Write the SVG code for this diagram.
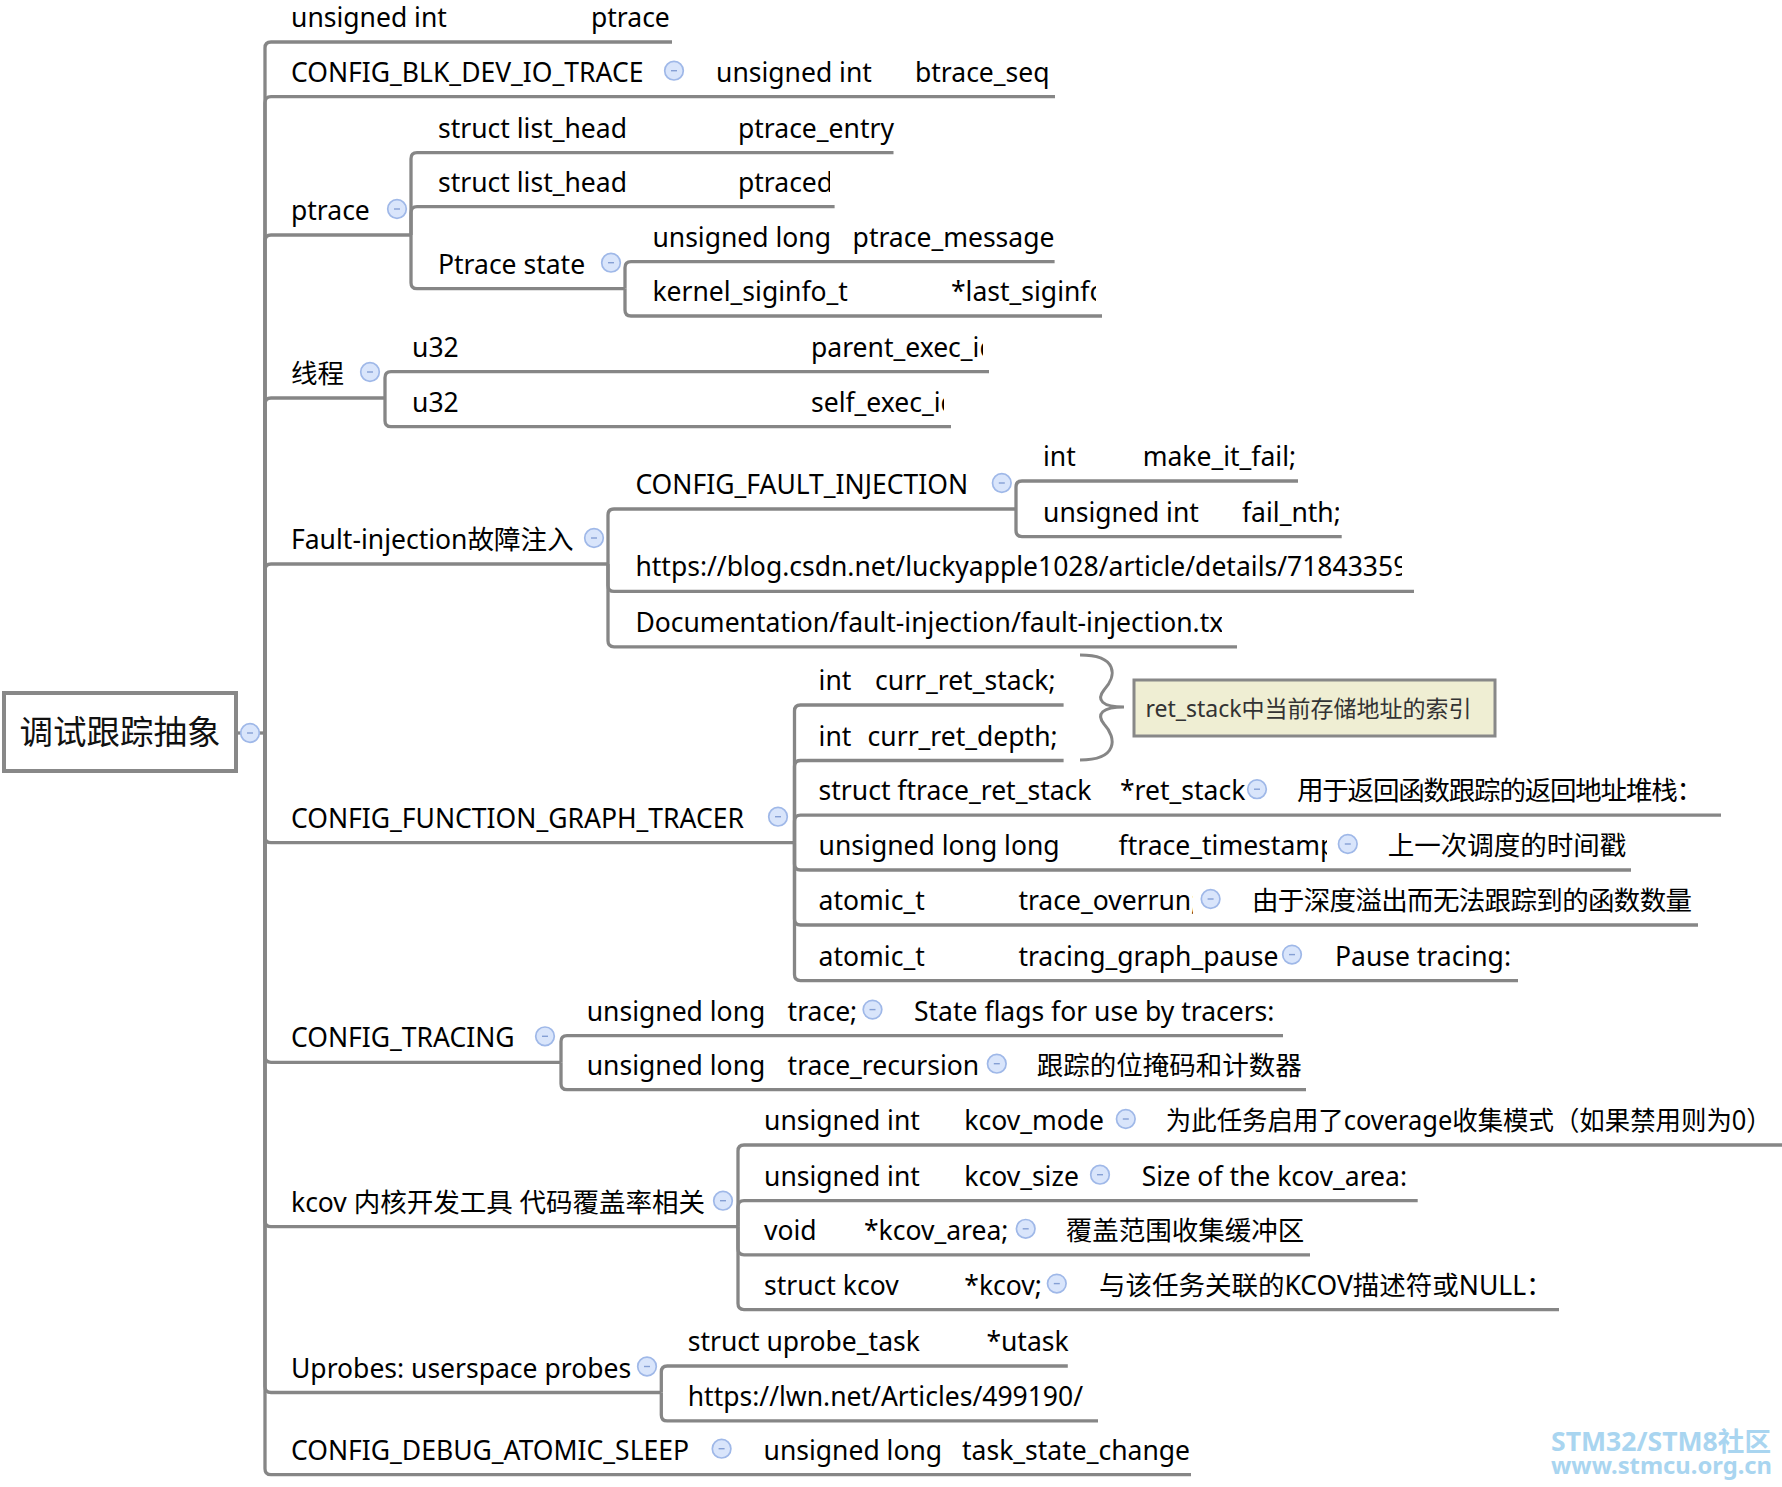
<svg xmlns="http://www.w3.org/2000/svg" width="1782" height="1487" viewBox="0 0 1782 1487">
<style>
.t{font-family:"Noto Sans","Noto Sans CJK SC",sans-serif;font-size:26.5px;fill:#000}
.root{font-family:"Noto Sans CJK SC","Noto Sans",sans-serif;font-size:33.5px;fill:#111}
.note{font-family:"Noto Sans","Noto Sans CJK SC",sans-serif;font-size:23px;fill:#333}
.wm{font-family:"Noto Sans","Noto Sans CJK SC",sans-serif;font-weight:bold;fill:#a9d5f0}
.ln{fill:none;stroke:#868686;stroke-width:3.3;stroke-linecap:butt}
.br{fill:none;stroke:#868686;stroke-width:3}
</style>
<defs>
<g id="col"><circle r="9.3" fill="#d9e5fb" stroke="#9fb8e8" stroke-width="1.7"/><line x1="-3" y1="0" x2="3" y2="0" stroke="#859fd4" stroke-width="1.4"/></g>
<clipPath id="c1" clipPathUnits="userSpaceOnUse"><rect x="0" y="0" width="830" height="1487"/></clipPath>
<clipPath id="c2" clipPathUnits="userSpaceOnUse"><rect x="0" y="0" width="1096" height="1487"/></clipPath>
<clipPath id="c3" clipPathUnits="userSpaceOnUse"><rect x="0" y="0" width="983" height="1487"/></clipPath>
<clipPath id="c4" clipPathUnits="userSpaceOnUse"><rect x="0" y="0" width="944" height="1487"/></clipPath>
<clipPath id="c5" clipPathUnits="userSpaceOnUse"><rect x="0" y="0" width="1339" height="1487"/></clipPath>
<clipPath id="c6" clipPathUnits="userSpaceOnUse"><rect x="0" y="0" width="1402" height="1487"/></clipPath>
<clipPath id="c7" clipPathUnits="userSpaceOnUse"><rect x="0" y="0" width="1222" height="1487"/></clipPath>
<clipPath id="c8" clipPathUnits="userSpaceOnUse"><rect x="0" y="0" width="1327" height="1487"/></clipPath>
<clipPath id="c9" clipPathUnits="userSpaceOnUse"><rect x="0" y="0" width="1193" height="1487"/></clipPath>
</defs>
<rect width="1782" height="1487" fill="#fff"/>

<g id="connectors">
<path class="ln" d="M237,733 H265"/>
<path class="ln" d="M265,733 V48 Q265,42 271,42 H672"/>
<path class="ln" d="M265,733 V102.7 Q265,96.7 271,96.7 H1055"/>
<path class="ln" d="M265,733 V241 Q265,235 271,235 H411"/>
<path class="ln" d="M265,733 V404 Q265,398 271,398 H385"/>
<path class="ln" d="M265,733 V570 Q265,564 271,564 H608"/>
<path class="ln" d="M265,733 V836.7 Q265,842.7 271,842.7 H794.5"/>
<path class="ln" d="M265,733 V1056.3 Q265,1062.3 271,1062.3 H561"/>
<path class="ln" d="M265,733 V1220.7 Q265,1226.7 271,1226.7 H738"/>
<path class="ln" d="M265,733 V1386.5 Q265,1392.5 271,1392.5 H661.3"/>
<path class="ln" d="M265,733 V1468.7 Q265,1474.7 271,1474.7 H1191"/>

<path class="ln" d="M411,235 V158.7 Q411,152.7 417,152.7 H893.5"/>
<path class="ln" d="M411,235 V212.7 Q411,206.7 417,206.7 H834.6"/>
<path class="ln" d="M411,235 V282.7 Q411,288.7 417,288.7 H625"/>
<path class="ln" d="M625,288.7 V267.7 Q625,261.7 631,261.7 H1054.6"/>
<path class="ln" d="M625,288.7 V310 Q625,316 631,316 H1102"/>

<path class="ln" d="M385,398 V377.7 Q385,371.7 391,371.7 H989"/>
<path class="ln" d="M385,398 V420.7 Q385,426.7 391,426.7 H951"/>

<path class="ln" d="M608,564 V515 Q608,509 614,509 H1016"/>
<path class="ln" d="M608,564 V585.4 Q608,591.4 614,591.4 H1414"/>
<path class="ln" d="M608,564 V640.8 Q608,646.8 614,646.8 H1237"/>
<path class="ln" d="M1016,509 V487 Q1016,481 1022,481 H1298"/>
<path class="ln" d="M1016,509 V530.6 Q1016,536.6 1022,536.6 H1341.7"/>

<path class="ln" d="M794.5,842.7 V711 Q794.5,705 800.5,705 H1063.6"/>
<path class="ln" d="M794.5,842.7 V766.5 Q794.5,760.5 800.5,760.5 H1063.6"/>
<path class="ln" d="M794.5,842.7 V821.2 Q794.5,815.2 800.5,815.2 H1721"/>
<path class="ln" d="M794.5,842.7 V864 Q794.5,870 800.5,870 H1631"/>
<path class="ln" d="M794.5,842.7 V919 Q794.5,925 800.5,925 H1698"/>
<path class="ln" d="M794.5,842.7 V974.6 Q794.5,980.6 800.5,980.6 H1518"/>

<path class="ln" d="M561,1062.3 V1041.6 Q561,1035.6 567,1035.6 H1283"/>
<path class="ln" d="M561,1062.3 V1083.7 Q561,1089.7 567,1089.7 H1306"/>

<path class="ln" d="M738,1226.7 V1151 Q738,1145 744,1145 H1782"/>
<path class="ln" d="M738,1226.7 V1206.7 Q738,1200.7 744,1200.7 H1417.7"/>
<path class="ln" d="M738,1226.7 V1248.8 Q738,1254.8 744,1254.8 H1310"/>
<path class="ln" d="M738,1226.7 V1303.6 Q738,1309.6 744,1309.6 H1559"/>

<path class="ln" d="M661.3,1392.5 V1372 Q661.3,1366 667.3,1366 H1067.8"/>
<path class="ln" d="M661.3,1392.5 V1414.9 Q661.3,1420.9 667.3,1420.9 H1098"/>

<path class="br" d="M1080,655 C1118,655 1117,676 1104,690 C1096,700 1102,707 1124,707 C1102,707 1096,714 1104,724 C1117,738 1118,760 1080,760"/>
</g>

<g id="n-root">
<rect x="4" y="693" width="232" height="78" fill="#fff" stroke="#888" stroke-width="4"/>
<text class="root" x="120" y="744" text-anchor="middle">调试跟踪抽象</text>
<use href="#col" x="250" y="733"/>
</g>

<g id="n-ptrace-field">
<text class="t" x="291" y="27">unsigned int</text>
<text class="t" x="591" y="27">ptrace</text>
</g>

<g id="n-blk">
<text class="t" x="291" y="81.7">CONFIG_BLK_DEV_IO_TRACE</text>
<use href="#col" x="674" y="70.7"/>
<text class="t" x="716" y="81.7">unsigned int</text>
<text class="t" x="915" y="81.7">btrace_seq</text>
</g>

<g id="n-ptrace">
<text class="t" x="291" y="220">ptrace</text>
<use href="#col" x="397" y="209"/>
</g>
<g id="n-ptrace-entry">
<text class="t" x="438" y="137.7">struct list_head</text>
<text class="t" x="738" y="137.7">ptrace_entry</text>
</g>
<g id="n-ptraced">
<text class="t" x="438" y="191.7">struct list_head</text>
<text class="t" x="738" y="191.7" clip-path="url(#c1)">ptraced</text>
</g>
<g id="n-ptrace-state">
<text class="t" x="438" y="273.7">Ptrace state</text>
<use href="#col" x="611" y="262.7"/>
</g>
<g id="n-ptrace-message">
<text class="t" x="652.4" y="246.7">unsigned long</text>
<text class="t" x="852.6" y="246.7">ptrace_message</text>
</g>
<g id="n-last-siginfo">
<text class="t" x="652.4" y="301">kernel_siginfo_t</text>
<text class="t" x="951" y="301" clip-path="url(#c2)">*last_siginfo</text>
</g>

<g id="n-thread">
<text class="t" x="291" y="383">线程</text>
<use href="#col" x="370" y="372"/>
</g>
<g id="n-parent-exec">
<text class="t" x="412" y="356.7">u32</text>
<text class="t" x="811" y="356.7" clip-path="url(#c3)">parent_exec_id</text>
</g>
<g id="n-self-exec">
<text class="t" x="412" y="411.7">u32</text>
<text class="t" x="811" y="411.7" clip-path="url(#c4)">self_exec_id</text>
</g>

<g id="n-fault">
<text class="t" x="291" y="549">Fault-injection故障注入</text>
<use href="#col" x="594" y="538"/>
</g>
<g id="n-fault-config">
<text class="t" x="635.4" y="494">CONFIG_FAULT_INJECTION</text>
<use href="#col" x="1001.8" y="483"/>
</g>
<g id="n-make-it-fail">
<text class="t" x="1043" y="466">int</text>
<text class="t" x="1142.7" y="466">make_it_fail;</text>
</g>
<g id="n-fail-nth">
<text class="t" x="1043" y="521.6">unsigned int</text>
<text class="t" x="1242" y="521.6" clip-path="url(#c5)">fail_nth;</text>
</g>
<g id="n-csdn">
<text class="t" x="635.4" y="576.4" clip-path="url(#c6)">https://blog.csdn.net/luckyapple1028/article/details/71843359</text>
</g>
<g id="n-doc">
<text class="t" x="635.4" y="631.8" clip-path="url(#c7)">Documentation/fault-injection/fault-injection.txt</text>
</g>

<g id="n-fgt">
<text class="t" x="291" y="827.7">CONFIG_FUNCTION_GRAPH_TRACER</text>
<use href="#col" x="778" y="816.7"/>
</g>
<g id="n-curr-ret-stack">
<text class="t" x="818.6" y="690">int</text>
<text class="t" x="875" y="690">curr_ret_stack;</text>
</g>
<g id="n-curr-ret-depth">
<text class="t" x="818.6" y="745.5">int</text>
<text class="t" x="867.6" y="745.5">curr_ret_depth;</text>
</g>
<g id="n-note">
<rect x="1134" y="680" width="361" height="56" fill="#efeed3" stroke="#888" stroke-width="3"/>
<text class="note" x="1145.5" y="716.5">ret_stack中当前存储地址的索引</text>
</g>
<g id="n-ret-stack">
<text class="t" x="818.6" y="800.2">struct ftrace_ret_stack</text>
<text class="t" x="1120" y="800.2">*ret_stack</text>
<use href="#col" x="1257" y="789.2"/>
<text class="t" x="1297" y="800.2" textLength="406" lengthAdjust="spacing">用于返回函数跟踪的返回地址堆栈：</text>
</g>
<g id="n-timestamp">
<text class="t" x="818.6" y="855">unsigned long long</text>
<text class="t" x="1118.6" y="855" clip-path="url(#c8)">ftrace_timestamp</text>
<use href="#col" x="1347.8" y="844"/>
<text class="t" x="1387.7" y="855">上一次调度的时间戳</text>
</g>
<g id="n-overrun">
<text class="t" x="818.6" y="910">atomic_t</text>
<text class="t" x="1018.4" y="910" clip-path="url(#c9)">trace_overrun;</text>
<use href="#col" x="1210.6" y="899"/>
<text class="t" x="1252" y="910" textLength="440" lengthAdjust="spacing">由于深度溢出而无法跟踪到的函数数量</text>
</g>
<g id="n-pause">
<text class="t" x="818.6" y="965.6">atomic_t</text>
<text class="t" x="1018.4" y="965.6">tracing_graph_pause</text>
<use href="#col" x="1292" y="954.6"/>
<text class="t" x="1335" y="965.6">Pause tracing:</text>
</g>

<g id="n-tracing">
<text class="t" x="291" y="1047.3">CONFIG_TRACING</text>
<use href="#col" x="545" y="1036.3"/>
</g>
<g id="n-trace">
<text class="t" x="586.7" y="1020.6">unsigned long</text>
<text class="t" x="787.6" y="1020.6">trace;</text>
<use href="#col" x="872.5" y="1009.6"/>
<text class="t" x="914" y="1020.6">State flags for use by tracers:</text>
</g>
<g id="n-trace-recursion">
<text class="t" x="586.7" y="1074.7">unsigned long</text>
<text class="t" x="787.6" y="1074.7">trace_recursion</text>
<use href="#col" x="996.8" y="1063.7"/>
<text class="t" x="1036.8" y="1074.7">跟踪的位掩码和计数器</text>
</g>

<g id="n-kcov">
<text class="t" x="291" y="1211.7">kcov 内核开发工具 代码覆盖率相关</text>
<use href="#col" x="723" y="1200.7"/>
</g>
<g id="n-kcov-mode">
<text class="t" x="764" y="1130">unsigned int</text>
<text class="t" x="964.3" y="1130">kcov_mode</text>
<use href="#col" x="1125.8" y="1119"/>
<text class="t" x="1165.8" y="1130" textLength="606" lengthAdjust="spacingAndGlyphs">为此任务启用了coverage收集模式（如果禁用则为0）</text>
</g>
<g id="n-kcov-size">
<text class="t" x="764" y="1185.7">unsigned int</text>
<text class="t" x="964.3" y="1185.7">kcov_size</text>
<use href="#col" x="1100" y="1174.7"/>
<text class="t" x="1141.7" y="1185.7">Size of the kcov_area:</text>
</g>
<g id="n-kcov-area">
<text class="t" x="764" y="1239.8">void</text>
<text class="t" x="864" y="1239.8">*kcov_area;</text>
<use href="#col" x="1025.7" y="1228.8"/>
<text class="t" x="1065.8" y="1239.8">覆盖范围收集缓冲区</text>
</g>
<g id="n-kcov-ptr">
<text class="t" x="764" y="1294.6">struct kcov</text>
<text class="t" x="964.3" y="1294.6">*kcov;</text>
<use href="#col" x="1056.8" y="1283.6"/>
<text class="t" x="1098.9" y="1294.6">与该任务关联的KCOV描述符或NULL：</text>
</g>

<g id="n-uprobes">
<text class="t" x="291" y="1377.5">Uprobes: userspace probes</text>
<use href="#col" x="647" y="1366.5"/>
</g>
<g id="n-utask">
<text class="t" x="687.7" y="1351">struct uprobe_task</text>
<text class="t" x="986.4" y="1351">*utask</text>
</g>
<g id="n-lwn">
<text class="t" x="687.7" y="1405.9">https://lwn.net/Articles/499190/</text>
</g>

<g id="n-atomic-sleep">
<text class="t" x="291" y="1459.7">CONFIG_DEBUG_ATOMIC_SLEEP</text>
<use href="#col" x="721.6" y="1448.7"/>
<text class="t" x="763.5" y="1459.7">unsigned long</text>
<text class="t" x="962" y="1459.7">task_state_change</text>
</g>

<g id="watermark">
<text class="wm" x="1551" y="1451" font-size="26" textLength="220" lengthAdjust="spacingAndGlyphs">STM32/STM8社区</text>
<text class="wm" x="1551" y="1474" font-size="24" textLength="221" lengthAdjust="spacingAndGlyphs">www.stmcu.org.cn</text>
</g>
</svg>
